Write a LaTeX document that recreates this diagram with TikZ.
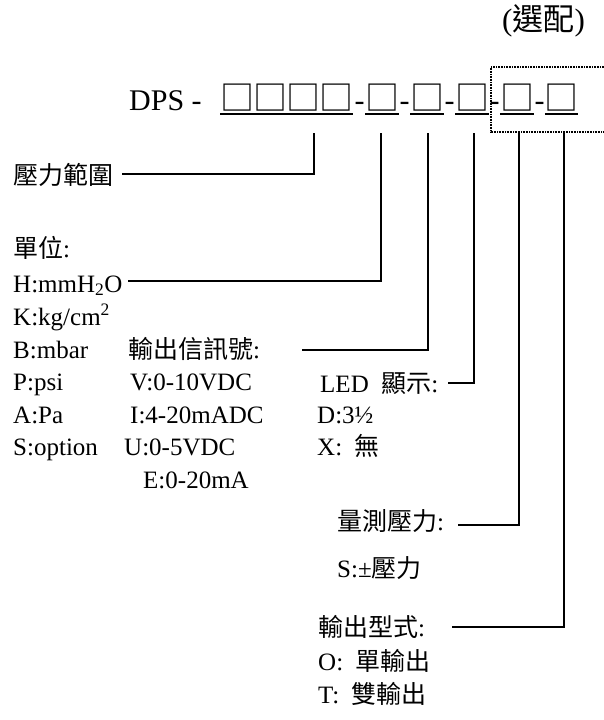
\documentclass[tikz,border=0pt]{standalone}
\usepackage{fontspec}
\setmainfont{Liberation Serif}
\newfontfamily\cjk{Noto Sans CJK TC}
\newcommand{\sqbox}{\makebox[33pt][c]{□}}
\begin{document}
\begin{tikzpicture}[x=1pt,y=-1pt,
  lbl/.style={anchor=base west,inner sep=0pt,font=\fontsize{25}{30}\selectfont},
  ttl/.style={anchor=base,inner sep=0pt,font=\fontsize{30}{36}\selectfont},
  sq/.style={anchor=base,inner sep=0pt,font=\cjk\fontsize{34}{38}\selectfont},
  conn/.style={line width=1.8pt},
  uline/.style={line width=2.2pt},
  optbox/.style={line width=1.4pt,dash pattern=on 0.8pt off 0.8pt}]
\useasboundingbox (0,0) rectangle (604,720);

% title
\node[lbl,font=\fontsize{31}{36}\selectfont] (opt) at (502,30) {({\cjk 選配})};
\node[ttl,anchor=base west] (dps) at (129,110) {DPS -};
\node[sq] (g1) at (286.5,110.5) {\sqbox\sqbox\sqbox\sqbox};
\node[sq] (g2) at (382,110.5) {\sqbox};
\node[sq] (g3) at (427,110.5) {\sqbox};
\node[sq] (g4) at (472,110.5) {\sqbox};
\node[sq] (g5) at (517,110.5) {\sqbox};
\node[sq] (g6) at (561.5,110.5) {\sqbox};
\node[ttl] (h1) at (359.5,110) {-};
\node[ttl] (h2) at (404.5,110) {-};
\node[ttl] (h3) at (449.5,110) {-};
\node[ttl] (h4) at (494.5,110) {-};
\node[ttl] (h5) at (539.5,110) {-};
\foreach \g in {g1,g2,g3,g4,g5,g6}
  \draw[uline] ([yshift=-3.5pt]\g.base west) -- ([yshift=-3.5pt]\g.base east);

% optional box
\draw[optbox] (604,67) -- (491,67) -- (491,132) -- (604,132);

% labels
\node[lbl] (range) at (13,184) {{\cjk 壓力範圍}};
\node[lbl] (unit) at (13,257) {{\cjk 單位}:};
\node[lbl] (uH) at (13,292) {H:mmH\textsubscript{2}O};
\node[lbl] (uK) at (13,325) {K:kg/cm\textsuperscript{2}};
\node[lbl] (uB) at (13,358) {B:mbar};
\node[lbl] (uP) at (13,390) {P:psi};
\node[lbl] (uA) at (13,423) {A:Pa};
\node[lbl] (uS) at (13,455) {S:option};

\node[lbl] (sig) at (128,358) {{\cjk 輸出信訊號}:};
\node[lbl] (sV) at (130,390) {V:0-10VDC};
\node[lbl] (sI) at (130,423) {I:4-20mADC};
\node[lbl] (sU) at (124,455) {U:0-5VDC};
\node[lbl] (sE) at (143,488) {E:0-20mA};

\node[lbl] (led) at (320,392) {LED\ \ {\cjk 顯示}:};
\node[lbl] (lD) at (317,423) {D:3½};
\node[lbl] (lX) at (317,455) {X:\ \ {\cjk 無}};

\node[lbl] (meas) at (337,530) {{\cjk 量測壓力}:};
\node[lbl] (mS) at (337,577) {S:±{\cjk 壓力}};

\node[lbl] (out) at (318,636) {{\cjk 輸出型式}:};
\node[lbl] (oO) at (318,670) {O:\ \ {\cjk 單輸出}};
\node[lbl] (oT) at (318,703) {T:\ \ {\cjk 雙輸出}};

% connector points
\coordinate (a1) at (314,133); \coordinate (k1) at (314,174); \coordinate (e1) at (122,174);
\coordinate (a2) at (381,133); \coordinate (k2) at (381,281); \coordinate (e2) at (128,281);
\coordinate (a3) at (428,133); \coordinate (k3) at (428,350); \coordinate (e3) at (302,350);
\coordinate (a4) at (474,133); \coordinate (k4) at (474,383); \coordinate (e4) at (448,383);
\coordinate (a5) at (519,133); \coordinate (k5) at (519,525); \coordinate (e5) at (458,525);
\coordinate (a6) at (564,133); \coordinate (k6) at (564,627); \coordinate (e6) at (452,627);

\draw[conn] (a1) -- (k1) -- (e1);
\draw[conn] (a2) -- (k2) -- (e2);
\draw[conn] (a3) -- (k3) -- (e3);
\draw[conn] (a4) -- (k4) -- (e4);
\draw[conn] (a5) -- (k5) -- (e5);
\draw[conn] (a6) -- (k6) -- (e6);
\end{tikzpicture}
\end{document}
